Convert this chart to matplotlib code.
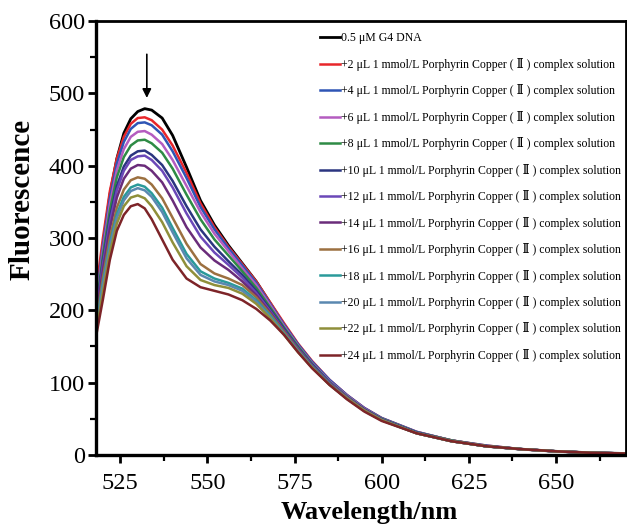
import numpy as np
import matplotlib
matplotlib.use('agg')
import matplotlib.pyplot as plt
from matplotlib.ticker import MultipleLocator

plt.rcParams['font.family'] = ['Liberation Serif', 'DejaVu Serif']
plt.rcParams['mathtext.fontset'] = 'stix'

# wavelength grid (nm) and fluorescence
wavelength = [518, 520, 522, 524, 526, 528, 530, 532, 534, 537, 540, 544, 548, 552, 556, 560,
              564, 568, 572, 576, 580, 585, 590, 595, 600, 610, 620, 630, 640, 650, 660, 670]

g4_dna = [215, 290, 360, 410, 445, 465, 475, 479, 477, 466, 442, 398, 352, 318, 290, 265,
          240, 210, 180, 152, 128, 103, 82, 64, 50, 31, 20, 12, 8, 5, 3, 2]
add_2 = [225, 300, 365, 410, 440, 458, 466, 467, 463, 450, 428, 390, 348, 315, 288, 264,
         240, 211, 182, 154, 130, 104, 83, 65, 51, 32, 20, 13, 8, 5, 3, 2]
add_4 = [210, 290, 355, 403, 433, 451, 459, 460, 456, 443, 420, 383, 343, 312, 286, 262,
         238, 209, 180, 153, 129, 104, 83, 65, 51, 32, 20, 13, 8, 5, 3, 2]
add_6 = [205, 283, 347, 394, 423, 440, 447, 448, 443, 430, 408, 372, 336, 306, 282, 258,
         235, 207, 178, 151, 127, 102, 82, 64, 50, 31, 20, 12, 8, 5, 3, 2]
add_8 = [200, 276, 338, 384, 412, 428, 435, 436, 431, 418, 396, 360, 326, 298, 276, 254,
         231, 204, 176, 150, 126, 101, 81, 63, 50, 31, 20, 12, 8, 5, 3, 2]
add_10 = [195, 268, 328, 372, 399, 414, 420, 421, 415, 401, 379, 344, 312, 288, 268, 249,
          227, 201, 174, 148, 125, 100, 80, 63, 49, 31, 19, 12, 8, 5, 3, 2]
add_12 = [192, 263, 322, 366, 393, 408, 413, 414, 408, 393, 370, 334, 302, 280, 263, 245,
          224, 199, 172, 147, 124, 100, 80, 62, 49, 30, 19, 12, 8, 5, 3, 2]
add_14 = [188, 256, 313, 356, 382, 396, 401, 400, 393, 377, 352, 315, 287, 269, 256, 240,
          221, 197, 171, 146, 123, 99, 79, 62, 49, 30, 19, 12, 8, 5, 3, 2]
add_16 = [180, 245, 300, 342, 367, 380, 384, 382, 374, 355, 328, 292, 264, 251, 244, 235,
          218, 195, 170, 145, 122, 98, 79, 62, 48, 30, 19, 12, 8, 5, 3, 2]
add_18 = [176, 238, 292, 333, 357, 370, 374, 371, 362, 342, 314, 278, 254, 244, 238, 230,
          214, 193, 168, 144, 122, 98, 78, 61, 48, 30, 19, 12, 8, 5, 3, 2]
add_20 = [172, 234, 288, 328, 352, 365, 369, 366, 357, 336, 308, 272, 249, 240, 235, 227,
          212, 191, 167, 143, 121, 97, 78, 61, 48, 30, 19, 12, 8, 5, 3, 2]
add_22 = [168, 225, 280, 320, 344, 356, 359, 355, 344, 322, 294, 261, 242, 235, 231, 223,
          209, 189, 166, 142, 121, 97, 78, 61, 48, 30, 19, 12, 8, 5, 3, 2]
add_24 = [163, 215, 270, 310, 332, 344, 347, 341, 326, 298, 270, 244, 232, 227, 222, 214,
          202, 186, 166, 142, 120, 97, 77, 60, 47, 30, 19, 12, 8, 5, 3, 2]

volumes = [2, 4, 6, 8, 10, 12, 14, 16, 18, 20, 22, 24]
series = [g4_dna, add_2, add_4, add_6, add_8, add_10, add_12, add_14,
          add_16, add_18, add_20, add_22, add_24]
labels = ["0.5 \u03bcM G4 DNA"] + \
    ["+{} \u03bcL 1 mmol/L Porphyrin Copper ( \u2161 ) complex solution".format(v) for v in volumes]
colors = ['#000000', '#e8262a', '#2f55b5', '#b45cc0', '#2e8b45', '#2b3580', '#6b48b8',
          '#6a2c7a', '#9c7040', '#2a9a9a', '#5a88b0', '#8f8f3a', '#7d2428']

fig = plt.figure(figsize=(6.27, 5.29), dpi=100)
ax = fig.add_axes([0.153, 0.140, 0.845, 0.820])

for vals, lab, col in zip(series, labels, colors):
    ax.plot(wavelength, vals, color=col, lw=1.8 if col != '#000000' else 2.0, label=lab)

ax.annotate('', xy=(532.6, 490), xytext=(532.6, 558),
            arrowprops=dict(arrowstyle='-|>', color='black', lw=1.2, mutation_scale=13))

ax.set_xlim(518, 670)
ax.set_ylim(0, 600)
ax.xaxis.set_major_locator(MultipleLocator(25))
ax.xaxis.set_minor_locator(MultipleLocator(12.5))
ax.yaxis.set_major_locator(MultipleLocator(100))
ax.yaxis.set_minor_locator(MultipleLocator(50))
ax.tick_params(which='major', direction='out', length=6, width=2, labelsize=17.5, pad=2)
ax.tick_params(which='minor', direction='out', length=4, width=1.6)
ax.tick_params(axis='x', pad=7)
for s in ['left', 'bottom']:
    ax.spines[s].set_linewidth(2.4)
for s in ['top', 'right']:
    ax.spines[s].set_linewidth(2.0)

ax.set_xlabel('Wavelength/nm', fontsize=19, fontweight='bold')
ax.set_ylabel('Fluorescence', fontsize=21, fontweight='bold')
ax.xaxis.set_label_coords(0.515, -0.106)
ax.yaxis.set_label_coords(-0.113, 0.588)

ax.legend(loc='upper right', bbox_to_anchor=(1.0, 0.985), frameon=False, fontsize=8.5,
          handlelength=1.7, handletextpad=0.08, labelspacing=1.14, borderaxespad=0.0)

plt.savefig('out.png', dpi=100)
